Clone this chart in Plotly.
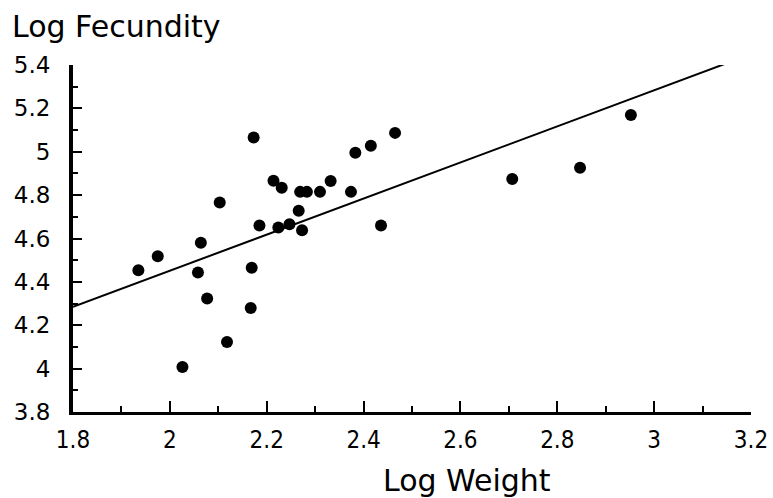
import plotly.graph_objects as go

# Data
log_weight = [1.935, 1.975, 2.026, 2.058, 2.064, 2.077, 2.103, 2.118, 2.167, 2.169,
              2.173, 2.185, 2.214, 2.224, 2.231, 2.247, 2.266, 2.269, 2.273, 2.283,
              2.310, 2.332, 2.374, 2.383, 2.415, 2.436, 2.465, 2.707, 2.847, 2.952]
log_fecundity = [4.454, 4.518, 4.008, 4.443, 4.580, 4.323, 4.766, 4.123, 4.280, 4.465,
                 5.066, 4.660, 4.866, 4.651, 4.834, 4.666, 4.728, 4.815, 4.638, 4.815,
                 4.815, 4.865, 4.815, 4.995, 5.028, 4.660, 5.087, 4.874, 4.926, 5.169]

# Fitted regression line endpoints
fit_x = [1.8, 3.158]
fit_y = [4.285, 5.415]

x_range = [1.8, 3.2]
y_range = [3.8, 5.4]

fig = go.Figure()
fig.add_trace(go.Scatter(x=fit_x, y=fit_y, mode="lines",
                         line=dict(color="black", width=2), showlegend=False,
                         cliponaxis=False))
fig.add_trace(go.Scatter(x=log_weight, y=log_fecundity, mode="markers",
                         marker=dict(color="black", size=12), showlegend=False))

fig.update_layout(
    width=773, height=498,
    margin=dict(l=73, r=22, t=65, b=86, autoexpand=False),
    paper_bgcolor="white", plot_bgcolor="white",
    xaxis=dict(range=x_range, tick0=1.8, dtick=0.2, ticks="inside", ticklen=11,
               tickwidth=2, tickcolor="black", showgrid=False, zeroline=False,
               showline=True, linecolor="black", linewidth=3, automargin=False,
               tickfont=dict(family="DejaVu Sans Condensed, Liberation Sans", size=24,
                             color="black"),
               ticklabelstandoff=4, ticklabeloverflow="allow",
               minor=dict(ticks="inside", dtick=0.1, tick0=1.8, ticklen=6,
                          tickwidth=2, tickcolor="black", showgrid=False)),
    yaxis=dict(range=y_range, tick0=3.8, dtick=0.2, ticks="inside", ticklen=9,
               tickwidth=2, tickcolor="black", showgrid=False, zeroline=False,
               showline=True, linecolor="black", linewidth=4, automargin=False,
               tickfont=dict(family="DejaVu Sans", size=23, color="black"),
               ticklabelstandoff=14,
               minor=dict(ticks="inside", dtick=0.1, tick0=3.8, ticklen=5,
                          tickwidth=2, tickcolor="black", showgrid=False)),
    annotations=[
        dict(text="Log Fecundity", xref="paper", yref="paper", x=-0.0924, y=1.112,
             xanchor="left", yanchor="middle", showarrow=False,
             font=dict(family="DejaVu Sans", size=30, color="black")),
        dict(text="Log Weight", xref="paper", yref="paper", x=0.581, y=-0.196,
             xanchor="center", yanchor="middle", showarrow=False,
             font=dict(family="DejaVu Sans", size=30, color="black")),
    ],
)

fig.write_html("out.html")
